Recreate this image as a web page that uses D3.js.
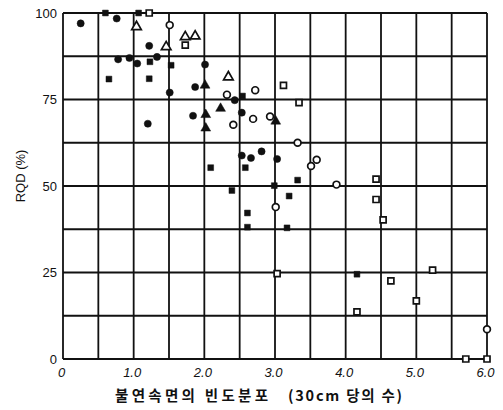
<!DOCTYPE html>
<html>
<head>
<meta charset="utf-8">
<script src="https://cdn.jsdelivr.net/npm/d3@7"></script>
<style>
  html, body { margin: 0; padding: 0; background: #fff; }
  svg { display: block; }
  text { font-family: "Liberation Sans", Arial, sans-serif; fill: #111; }
</style>
</head>
<body>
<svg id="chart" width="503" height="410"></svg>
<script>
// RQD (%) against joint frequency (number per 30 cm)
const solidCircle = [
  [0.25, 97.0], [0.76, 98.4], [1.22, 90.5], [0.78, 86.6], [0.94, 87.0],
  [1.05, 85.4], [1.33, 87.3], [1.51, 77.0], [1.87, 78.6], [1.84, 70.3],
  [1.20, 68.0], [2.01, 85.1], [2.43, 74.8], [2.53, 71.2], [2.53, 58.8],
  [2.66, 58.1], [2.81, 60.0], [3.03, 57.8]
];
const solidSquare = [
  [0.60, 100], [1.07, 100], [1.23, 85.9], [1.53, 84.9], [0.65, 80.9],
  [1.22, 81.0], [2.54, 76.0], [2.09, 55.3], [2.58, 55.3], [3.32, 51.7],
  [2.99, 50.1], [3.20, 47.1], [2.39, 48.7], [2.61, 42.2], [2.61, 38.1],
  [3.17, 37.9], [4.16, 24.5]
];
const solidTriangle = [
  [2.01, 79.1], [2.02, 70.6], [2.23, 72.4], [3.01, 68.7], [2.02, 66.7]
];
const hollowCircle = [
  [1.51, 96.5], [2.32, 76.4], [2.72, 77.7], [2.69, 69.4], [2.93, 70.1],
  [2.41, 67.7], [3.32, 62.5], [3.51, 55.8], [3.59, 57.6], [3.01, 43.9],
  [3.87, 50.4], [6.00, 8.6]
];
const hollowSquare = [
  [1.22, 100], [1.73, 90.7], [3.12, 79.1], [3.34, 74.1], [4.43, 52.0],
  [4.43, 46.1], [4.53, 40.2], [3.03, 24.7], [5.23, 25.7], [4.64, 22.6],
  [5.00, 16.8], [4.16, 13.6], [5.70, 0], [6.00, 0]
];
const hollowTriangle = [
  [1.04, 96.0], [1.73, 93.1], [1.87, 93.3], [1.46, 90.2], [2.34, 81.5]
];

const xTicks = [0, 1, 2, 3, 4, 5, 6];
const xTickLabels = ["0", "1.0", "2.0", "3.0", "4.0", "5.0", "6.0"];
const yTicks = [0, 25, 50, 75, 100];
const xGrid = [0, 0.5, 1, 1.5, 2, 2.5, 3, 3.5, 4, 4.5, 5, 5.5, 6];
const yGrid = [0, 12.5, 25, 37.5, 50, 62.5, 75, 87.5, 100];

const xTitleMain = "불연속면의 빈도분포";
const xTitleUnit = "(30cm 당의 수)";
const yTitle = "RQD (%)";

const svg = d3.select("#chart");
const x = d3.scaleLinear().domain([0, 6]).range([63, 487]);
const y = d3.scaleLinear().domain([0, 100]).range([359, 13]);

// grid
const grid = svg.append("g").attr("stroke", "#111").attr("stroke-width", 1.8);
grid.selectAll("line.gx").data(xGrid).join("line")
  .attr("class", "gx")
  .attr("x1", d => x(d)).attr("x2", d => x(d))
  .attr("y1", y(0)).attr("y2", y(100));
grid.selectAll("line.gy").data(yGrid).join("line")
  .attr("class", "gy")
  .attr("x1", x(0)).attr("x2", x(6))
  .attr("y1", d => y(d)).attr("y2", d => y(d));

// axes (labels only)
const xAxis = svg.append("g")
  .attr("transform", `translate(0,${y(0) + 6})`)
  .call(d3.axisBottom(x).tickValues(xTicks).tickSize(0)
    .tickFormat((d, i) => xTickLabels[i]));
xAxis.select(".domain").remove();
xAxis.selectAll("text")
  .attr("font-size", 13).attr("font-style", "italic")
  .attr("font-family", "'Liberation Sans', Arial, sans-serif")
  .attr("dx", -2);

const yAxis = svg.append("g")
  .attr("transform", `translate(${x(0) - 3},0)`)
  .call(d3.axisLeft(y).tickValues(yTicks).tickSize(0));
yAxis.select(".domain").remove();
yAxis.selectAll("text")
  .attr("font-size", 13)
  .attr("font-family", "'Liberation Sans', Arial, sans-serif");

// titles
svg.append("text")
  .attr("transform", "translate(25,176) rotate(-90)")
  .attr("text-anchor", "middle")
  .attr("font-size", 13)
  .text(yTitle);

const xt = svg.append("text")
  .attr("y", 401)
  .attr("font-size", 14.5)
  .attr("font-weight", "bold")
  .style("font-family", "'Noto Sans CJK KR', 'Liberation Sans', sans-serif");
xt.append("tspan")
  .attr("x", 115)
  .attr("textLength", 153)
  .attr("lengthAdjust", "spacing")
  .text(xTitleMain);
xt.append("tspan")
  .attr("x", 288)
  .attr("textLength", 114)
  .attr("lengthAdjust", "spacing")
  .text(xTitleUnit);

// markers
const series = [
  { data: solidCircle, type: d3.symbolCircle, size: 40, filled: true },
  { data: solidSquare, type: d3.symbolSquare, size: 34, filled: true },
  { data: solidTriangle, type: d3.symbolTriangle, size: 42, filled: true },
  { data: hollowCircle, type: d3.symbolCircle, size: 36, filled: false },
  { data: hollowSquare, type: d3.symbolSquare, size: 36, filled: false },
  { data: hollowTriangle, type: d3.symbolTriangle, size: 40, filled: false }
];

series.forEach(s => {
  svg.append("g").selectAll("path").data(s.data).join("path")
    .attr("transform", d => `translate(${x(d[0])},${y(d[1])})`)
    .attr("d", d3.symbol().type(s.type).size(s.size))
    .attr("fill", s.filled ? "#111" : "#fff")
    .attr("stroke", "#111")
    .attr("stroke-width", s.filled ? 0.5 : 1.7);
});
</script>
</body>
</html>
